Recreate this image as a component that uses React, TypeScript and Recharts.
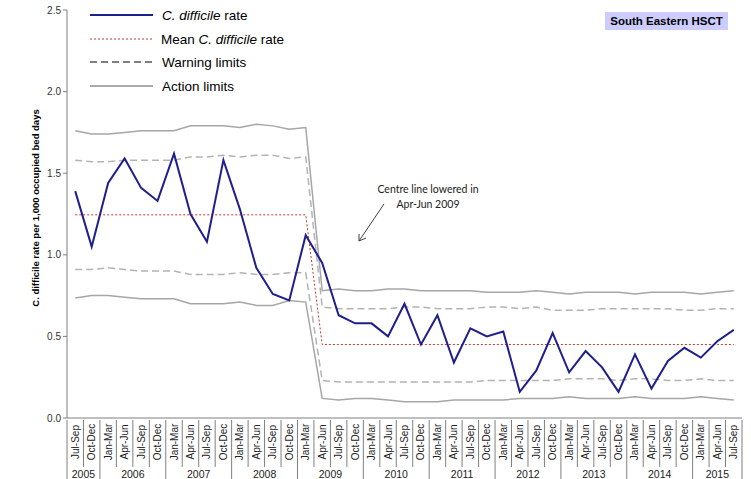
import { LineChart, Line, XAxis, YAxis } from 'recharts';

const FULL_YEAR = ['Jan-Mar', 'Apr-Jun', 'Jul-Sep', 'Oct-Dec'];
const YEARS = ['2005', '2006', '2007', '2008', '2009', '2010', '2011', '2012', '2013', '2014', '2015'];
const YEAR_QUARTERS = [
  ['Jul-Sep', 'Oct-Dec'],
  FULL_YEAR, FULL_YEAR, FULL_YEAR, FULL_YEAR, FULL_YEAR,
  FULL_YEAR, FULL_YEAR, FULL_YEAR, FULL_YEAR,
  ['Jan-Mar', 'Apr-Jun', 'Jul-Sep'],
];

const RATE = [
  1.39, 1.05, 1.44, 1.59, 1.41, 1.33, 1.62, 1.25, 1.08, 1.58, 1.28, 0.92, 0.76, 0.72, 1.12,
  0.95, 0.63, 0.58, 0.58, 0.50, 0.70, 0.45, 0.63, 0.34, 0.55, 0.50, 0.53, 0.16, 0.29, 0.52,
  0.28, 0.41, 0.31, 0.16, 0.39, 0.18, 0.35, 0.43, 0.37, 0.47, 0.54,
];
const MEAN_BEFORE = 1.245;
const MEAN_AFTER = 0.45;
const CHANGE_INDEX = 15; // Apr-Jun 2009

const UPPER_ACTION = [
  1.76, 1.74, 1.74, 1.75, 1.76, 1.76, 1.76, 1.79, 1.79, 1.79, 1.78, 1.80, 1.79, 1.77, 1.78,
  0.78, 0.79, 0.78, 0.78, 0.79, 0.79, 0.78, 0.78, 0.78, 0.78, 0.77, 0.77, 0.77, 0.78, 0.77,
  0.76, 0.77, 0.77, 0.77, 0.76, 0.77, 0.77, 0.77, 0.76, 0.77, 0.78,
];
const UPPER_WARNING = [
  1.58, 1.57, 1.57, 1.58, 1.58, 1.58, 1.58, 1.60, 1.60, 1.61, 1.60, 1.61, 1.61, 1.59, 1.60,
  0.68, 0.67, 0.67, 0.67, 0.67, 0.68, 0.68, 0.67, 0.67, 0.67, 0.68, 0.68, 0.67, 0.68, 0.66,
  0.66, 0.66, 0.67, 0.67, 0.67, 0.67, 0.67, 0.66, 0.66, 0.67, 0.67,
];
const LOWER_WARNING = [
  0.91, 0.91, 0.92, 0.91, 0.90, 0.90, 0.90, 0.88, 0.88, 0.88, 0.89, 0.88, 0.88, 0.89, 0.89,
  0.23, 0.22, 0.22, 0.22, 0.22, 0.22, 0.22, 0.22, 0.22, 0.22, 0.23, 0.23, 0.23, 0.23, 0.23,
  0.24, 0.24, 0.24, 0.23, 0.24, 0.24, 0.23, 0.23, 0.24, 0.23, 0.23,
];
const LOWER_ACTION = [
  0.735, 0.75, 0.75, 0.74, 0.73, 0.73, 0.73, 0.70, 0.70, 0.70, 0.71, 0.69, 0.69, 0.72, 0.71,
  0.12, 0.11, 0.12, 0.12, 0.11, 0.10, 0.10, 0.10, 0.11, 0.11, 0.11, 0.11, 0.12, 0.12, 0.12,
  0.13, 0.12, 0.12, 0.12, 0.13, 0.12, 0.12, 0.12, 0.13, 0.12, 0.11,
];
const Y_TICKS = [0, 0.5, 1.0, 1.5, 2.0, 2.5];

const data = YEAR_QUARTERS.flatMap((qs, yi) =>
  qs.map((q, qi) => ({ quarter: q, year: YEARS[yi], firstOfYear: qi === 0, yearCount: qs.length }))
).map((d, i) => ({
  ...d,
  key: `${d.quarter} ${d.year}`,
  rate: RATE[i],
  mean: i < CHANGE_INDEX ? MEAN_BEFORE : MEAN_AFTER,
  ual: UPPER_ACTION[i],
  uwl: UPPER_WARNING[i],
  lwl: LOWER_WARNING[i],
  lal: LOWER_ACTION[i],
}));

const W = 751;
const H = 479;
const MARGIN = { top: 10, right: 9, bottom: 0, left: 0 };
const Y_WIDTH = 67;
const BAND = (W - MARGIN.left - MARGIN.right - Y_WIDTH) / data.length;
const FONT = 'Arial, "Liberation Sans", sans-serif';
const AXIS = '#7f7f7f';

const QuarterTick = (props: any) => {
  const { x, y, index } = props;
  const d = data[index];
  const left = x - BAND / 2;
  const last = index === data.length - 1;
  return (
    <g>
      <line x1={left} y1={y} x2={left} y2={d.firstOfYear ? H : y + 47} stroke={AXIS} strokeWidth={1} />
      {last && <line x1={x + BAND / 2} y1={y} x2={x + BAND / 2} y2={H} stroke={AXIS} strokeWidth={1} />}
      <text
        x={0}
        y={0}
        transform={`translate(${x},${y + 22}) rotate(-90)`}
        textAnchor="middle"
        dominantBaseline="central"
        fontSize={10}
        fontFamily={FONT}
        fill="#222"
      >
        {d.quarter}
      </text>
      {d.firstOfYear && (
        <text
          x={left + (d.yearCount * BAND) / 2}
          y={y + 58}
          textAnchor="middle"
          fontSize={10.5}
          fontFamily={FONT}
          fill="#222"
        >
          {d.year}
        </text>
      )}
    </g>
  );
};

const YLabel = (props: any) => {
  const vb = props.viewBox || { x: 0, y: 10, width: 67, height: 408 };
  const cx = 35;
  const cy = vb.y + vb.height / 2 - 6;
  return (
    <text
      x={cx}
      y={cy}
      transform={`rotate(-90, ${cx}, ${cy})`}
      textAnchor="middle"
      dominantBaseline="central"
      fontSize={9.5}
      fontWeight="bold"
      fontFamily={FONT}
      fill="#000"
    >
      C. difficile rate per 1,000 occupied bed days
    </text>
  );
};

const LEGEND = [
  { label: 'rate', stroke: '#1f1f8c', width: 2, dash: undefined },
  { label: 'mean', stroke: '#c0392b', width: 1, dash: '2 2' },
  { label: 'warning', stroke: '#000', width: 1, dash: '7 4' },
  { label: 'action', stroke: '#8c8c8c', width: 1.3, dash: undefined },
];

function Overlay() {
  const rowY = [15, 39, 62, 86];
  return (
    <svg width={W} height={H} style={{ position: 'absolute', left: 0, top: 0, pointerEvents: 'none' }}>
      {LEGEND.map((l, i) => (
        <line key={l.label} x1={90} y1={rowY[i]} x2={153} y2={rowY[i]} stroke={l.stroke} strokeWidth={l.width} strokeDasharray={l.dash} />
      ))}
      <text x={162} y={rowY[0]} dominantBaseline="central" fontSize={13.5} fontFamily={FONT} fill="#000">
        <tspan fontStyle="italic">C. difficile</tspan> rate
      </text>
      <text x={161} y={rowY[1]} dominantBaseline="central" fontSize={13.5} fontFamily={FONT} fill="#000">
        Mean <tspan fontStyle="italic">C. difficile</tspan> rate
      </text>
      <text x={162} y={rowY[2]} dominantBaseline="central" fontSize={13.5} fontFamily={FONT} fill="#000">
        Warning limits
      </text>
      <text x={162} y={rowY[3]} dominantBaseline="central" fontSize={13.5} fontFamily={FONT} fill="#000">
        Action limits
      </text>

      <rect x={605} y={12} width={123} height={18} fill="#ccccff" />
      <text x={666.5} y={21} textAnchor="middle" dominantBaseline="central" fontSize={11.5} fontWeight="bold" fontFamily={FONT} fill="#000">
        South Eastern HSCT
      </text>

      <text x={428} y={189} textAnchor="middle" dominantBaseline="central" fontSize={10.5} fontFamily='Lato, "Open Sans", sans-serif' fill="#222">
        Centre line lowered in
      </text>
      <text x={428} y={204} textAnchor="middle" dominantBaseline="central" fontSize={10.5} fontFamily='Lato, "Open Sans", sans-serif' fill="#222">
        Apr-Jun 2009
      </text>
      <line x1={384} y1={204} x2={359} y2={241} stroke="#404040" strokeWidth={1} />
      <polyline points="359,234 359,241 366,238" fill="none" stroke="#404040" strokeWidth={1} />
    </svg>
  );
}

export default function App() {
  return (
    <div style={{ position: 'absolute', left: 0, top: 0, width: W, height: H, background: '#fff' }}>
      <LineChart width={W} height={H} data={data} margin={MARGIN}>
        <XAxis
          dataKey="key"
          scale="band"
          interval={0}
          height={61}
          tickSize={0}
          tickLine={false}
          tick={<QuarterTick />}
          axisLine={{ stroke: AXIS, strokeWidth: 1 }}
        />
        <YAxis
          domain={[0, 2.5]}
          ticks={Y_TICKS}
          width={Y_WIDTH}
          tickFormatter={(v: number) => v.toFixed(1)}
          tick={{ fontSize: 10, fontFamily: FONT, fill: '#333' }}
          tickSize={4}
          tickLine={{ stroke: AXIS }}
          axisLine={{ stroke: AXIS, strokeWidth: 1 }}
          label={<YLabel />}
        />
        <Line dataKey="ual" stroke="#a6a6a6" strokeWidth={1.5} dot={false} isAnimationActive={false} />
        <Line dataKey="lal" stroke="#a6a6a6" strokeWidth={1.5} dot={false} isAnimationActive={false} />
        <Line dataKey="uwl" stroke="#b3b3b3" strokeWidth={1.5} strokeDasharray="7 4" dot={false} isAnimationActive={false} />
        <Line dataKey="lwl" stroke="#b3b3b3" strokeWidth={1.5} strokeDasharray="7 4" dot={false} isAnimationActive={false} />
        <Line dataKey="mean" stroke="#c0392b" strokeWidth={1} strokeDasharray="2 2" dot={false} isAnimationActive={false} />
        <Line dataKey="rate" stroke="#1f1f8c" strokeWidth={2} dot={false} isAnimationActive={false} />
      </LineChart>
      <Overlay />
    </div>
  );
}
